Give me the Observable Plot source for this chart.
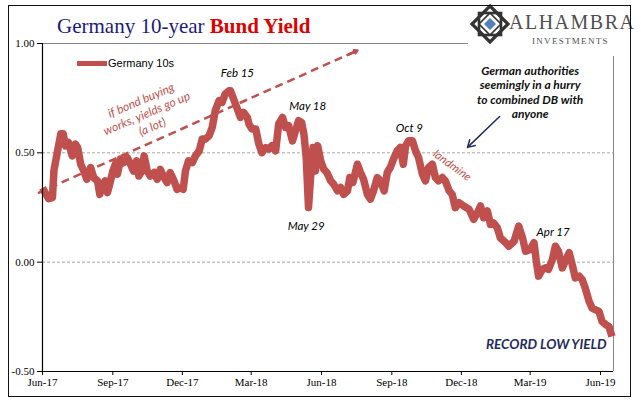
<!DOCTYPE html>
<html>
<head>
<meta charset="utf-8">
<script src="https://cdn.jsdelivr.net/npm/d3@7"></script>
<script src="https://cdn.jsdelivr.net/npm/@observablehq/plot@0.6"></script>
<style>
  html, body { margin: 0; padding: 0; background: #fff; }
  #wrap { position: relative; width: 641px; height: 401px; overflow: hidden; background: #fff; }
  #wrap svg { position: absolute; left: 0; top: 0; }
  .ov { position: absolute; white-space: nowrap; }
</style>
</head>
<body>
<div id="wrap"></div>
<script>
// ---- data ----
const dates = [
  "2017-06-14","2017-06-22","2017-06-27","2017-06-29","2017-07-03","2017-07-08","2017-07-11","2017-07-14",
  "2017-07-18","2017-07-23","2017-07-27","2017-07-30","2017-08-03","2017-08-07","2017-08-11","2017-08-16",
  "2017-08-20","2017-08-25","2017-08-28","2017-08-31","2017-09-04","2017-09-07","2017-09-11","2017-09-14",
  "2017-09-18","2017-09-20","2017-09-24","2017-09-28","2017-10-03","2017-10-07","2017-10-11","2017-10-15",
  "2017-10-18","2017-10-22","2017-10-25","2017-10-29","2017-11-02","2017-11-07","2017-11-11","2017-11-15",
  "2017-11-20","2017-11-24","2017-11-28","2017-12-03","2017-12-07","2017-12-12","2017-12-15","2017-12-18",
  "2017-12-22","2017-12-27","2017-12-31","2018-01-05","2018-01-09","2018-01-13","2018-01-18","2018-01-22",
  "2018-01-26","2018-01-31","2018-02-04","2018-02-08","2018-02-13","2018-02-15","2018-02-19","2018-02-24",
  "2018-02-28","2018-03-04","2018-03-09","2018-03-11","2018-03-15","2018-03-20","2018-03-24","2018-03-28",
  "2018-04-02","2018-04-06","2018-04-10","2018-04-15","2018-04-19","2018-04-24","2018-04-28","2018-05-02",
  "2018-05-07","2018-05-11","2018-05-15","2018-05-19","2018-05-22","2018-05-25","2018-05-28","2018-05-31",
  "2018-06-03","2018-06-06","2018-06-09","2018-06-13","2018-06-17","2018-06-21","2018-06-26","2018-06-30",
  "2018-07-05","2018-07-09","2018-07-13","2018-07-18","2018-07-21","2018-07-25","2018-07-31","2018-08-04",
  "2018-08-08","2018-08-13","2018-08-17","2018-08-21","2018-08-26","2018-08-30","2018-09-04","2018-09-08",
  "2018-09-12","2018-09-17","2018-09-21","2018-09-25","2018-09-29","2018-10-02","2018-10-06","2018-10-11",
  "2018-10-15","2018-10-19","2018-10-24","2018-10-28","2018-11-01","2018-11-06","2018-11-10","2018-11-14",
  "2018-11-19","2018-11-23","2018-11-28","2018-12-02","2018-12-06","2018-12-11","2018-12-17","2018-12-24",
  "2018-12-30","2019-01-04","2019-01-08","2019-01-12","2019-01-17","2019-01-21","2019-01-25","2019-01-30",
  "2019-02-03","2019-02-10","2019-02-14","2019-02-21","2019-02-27","2019-03-04","2019-03-08","2019-03-14",
  "2019-03-19","2019-03-22","2019-03-25","2019-03-30","2019-04-03","2019-04-07","2019-04-12","2019-04-16",
  "2019-04-20","2019-04-25","2019-04-29","2019-05-04","2019-05-08","2019-05-12","2019-05-17","2019-05-21",
  "2019-05-25","2019-05-30","2019-06-03","2019-06-07","2019-06-12","2019-06-16","2019-06-21","2019-06-25",
  "2019-06-29"
];
const yields = [
  0.34, 0.29, 0.295, 0.42, 0.495, 0.587, 0.587, 0.532,
  0.547, 0.486, 0.54, 0.524, 0.448, 0.417, 0.379, 0.433,
  0.387, 0.372, 0.31, 0.349, 0.372, 0.318, 0.372, 0.417,
  0.455, 0.402, 0.471, 0.455, 0.478, 0.448, 0.417, 0.463,
  0.394, 0.417, 0.486, 0.417, 0.394, 0.41, 0.379, 0.425,
  0.387, 0.364, 0.41, 0.372, 0.333, 0.341, 0.333, 0.417,
  0.463, 0.455, 0.486, 0.509, 0.563, 0.563, 0.578, 0.616,
  0.693, 0.739, 0.731, 0.769, 0.784, 0.784, 0.746, 0.70,
  0.662, 0.685, 0.662, 0.632, 0.609, 0.609, 0.54, 0.501,
  0.524, 0.517, 0.532, 0.509, 0.632, 0.662, 0.616, 0.624,
  0.555, 0.601, 0.647, 0.639, 0.586, 0.478, 0.25, 0.402,
  0.524, 0.417, 0.532, 0.463, 0.425, 0.41, 0.372, 0.356,
  0.326, 0.341, 0.31, 0.326, 0.387, 0.364, 0.448, 0.41,
  0.379, 0.31, 0.288, 0.326, 0.387, 0.372, 0.326, 0.41,
  0.433, 0.478, 0.509, 0.524, 0.448, 0.532, 0.555, 0.555,
  0.509, 0.478, 0.402, 0.372, 0.433, 0.448, 0.387, 0.372,
  0.387, 0.372, 0.326, 0.31, 0.249, 0.272, 0.257, 0.242,
  0.196, 0.226, 0.257, 0.203, 0.234, 0.173, 0.18, 0.157,
  0.111, 0.089, 0.073, 0.096, 0.165, 0.111, 0.05, 0.058,
  0.089, 0.005, -0.064, -0.033, -0.026, -0.033, 0.012, 0.073,
  0.05, -0.026, 0.005, 0.043, -0.011, -0.072, -0.064, -0.079,
  -0.118, -0.179, -0.21, -0.217, -0.225, -0.271, -0.286, -0.294,
  -0.34
];
const seriesName = "Germany 10s";
const xStart = "2017-06-14";
const xEnd = "2019-07-01";
const xTickDates = ["2017-06-14","2017-09-14","2017-12-14","2018-03-14","2018-06-14","2018-09-14","2018-12-14","2019-03-14","2019-06-14"];
const yTicks = [-0.5, 0, 0.5, 1.0];
const gridValues = [0, 0.5];

// annotations (data coordinates)
const dateLabels = [
  {text: "Feb 15", date: "2018-02-24", value: 0.863},
  {text: "May 18", date: "2018-05-27", value: 0.712},
  {text: "May 29", date: "2018-05-25", value: 0.163},
  {text: "Oct 9",  date: "2018-10-07", value: 0.611},
  {text: "Apr 17", date: "2019-04-13", value: 0.136}
];
const hopeArrow = {fromDate: "2017-06-08", fromValue: 0.316, toDate: "2018-07-31", toValue: 0.968};
const hopeText = {text: "if bond buying\nworks, yields go up\n(a lot)", date: "2017-10-28", value: 0.682};
const landmine = {text: "landmine", date: "2018-12-02", value: 0.442};
const authText = {text: "German authorities\nseemingly in a hurry\nto combined DB with\nanyone", date: "2019-03-14", value: 0.779};
const authArrow = {fromDate: "2019-02-02", fromValue: 0.666, toDate: "2018-12-22", toValue: 0.525};
const recordText = {text: "RECORD LOW YIELD", date: "2019-06-22", value: -0.376};

// ---- build ----
const parse = d3.utcParse("%Y-%m-%d");
const data = dates.map((d, i) => ({date: parse(d), value: yields[i]}));
const red = "#c0504d";
const navy = "#1f2d5c";

const headFrac = 0.97;
const hA = {
  x1: parse(hopeArrow.fromDate), y1: hopeArrow.fromValue,
  x2: parse(hopeArrow.toDate), y2: hopeArrow.toValue
};
const hHead = {
  x1: d3.interpolateDate(hA.x1, hA.x2)(headFrac),
  y1: d3.interpolateNumber(hA.y1, hA.y2)(headFrac),
  x2: hA.x2, y2: hA.y2
};

const chart = Plot.plot({
  width: 641,
  height: 401,
  marginLeft: 42,
  marginRight: 28,
  marginTop: 43,
  marginBottom: 30,
  style: {fontFamily: "'Liberation Serif', serif", fontSize: "11px", color: "#000", background: "transparent"},
  x: {
    type: "utc",
    domain: [parse(xStart), parse(xEnd)],
    ticks: xTickDates.map(parse),
    tickFormat: d3.utcFormat("%b-%y"),
    tickSize: 4,
    tickPadding: 3,
    label: null
  },
  y: {
    domain: [-0.5, 1.0],
    ticks: yTicks,
    tickFormat: d => d.toFixed(2),
    tickSize: 5,
    tickPadding: 3,
    label: null
  },
  marks: [
    Plot.ruleY(gridValues, {stroke: "#a6a6a6", strokeWidth: 1, strokeDasharray: "3,2"}),
    Plot.ruleY([1.0], {stroke: "#868686", strokeWidth: 1}),
    Plot.ruleX([parse(xEnd)], {stroke: "#868686", strokeWidth: 1}),
    Plot.link([hA], {x1: "x1", y1: "y1", x2: "x2", y2: "y2", stroke: red, strokeWidth: 2.5, strokeDasharray: "8,5"}),
    Plot.arrow([hHead], {x1: "x1", y1: "y1", x2: "x2", y2: "y2", stroke: red, strokeWidth: 2.5, headLength: 11}),
    Plot.line(data, {x: "date", y: "value", stroke: red, strokeWidth: 7.5, strokeLinejoin: "round", strokeLinecap: "butt"}),
    Plot.ruleX([parse(xStart)], {stroke: "#000", strokeWidth: 1.2}),
    Plot.ruleY([-0.5], {stroke: "#000", strokeWidth: 1.2}),
    Plot.text(dateLabels, {x: d => parse(d.date), y: "value", text: "text", fontFamily: "Lato, sans-serif", fontStyle: "italic", fontSize: 11.5, fill: "#000"}),
    Plot.text([hopeText], {x: d => parse(d.date), y: "value", text: "text", fontFamily: "Lato, sans-serif", fontStyle: "italic", fontSize: 12, fill: red, rotate: -23, lineHeight: 1.2}),
    Plot.text([landmine], {x: d => parse(d.date), y: "value", text: "text", fontFamily: "Lato, sans-serif", fontStyle: "italic", fontSize: 11.5, fill: red, rotate: 36}),
    Plot.text([authText], {x: d => parse(d.date), y: "value", text: "text", fontFamily: "Lato, sans-serif", fontStyle: "italic", fontWeight: "bold", fontSize: 12, fill: "#111", lineHeight: 1.2}),
    Plot.arrow([authArrow], {x1: d => parse(d.fromDate), y1: "fromValue", x2: d => parse(d.toDate), y2: "toValue", stroke: navy, strokeWidth: 1.5, headLength: 8}),
    Plot.text([recordText], {x: d => parse(d.date), y: "value", text: "text", textAnchor: "end", fontFamily: "Lato, sans-serif", fontStyle: "italic", fontWeight: "bold", fontSize: 13.5, fill: navy})
  ]
});

const wrap = document.getElementById("wrap");
wrap.appendChild(chart);

// Title
const title = document.createElement("div");
title.className = "ov";
title.style.cssText = "left:57px;top:14px;font-family:'Liberation Serif',serif;font-size:21px;line-height:24px;color:#1c1c78;";
title.innerHTML = 'Germany 10-year <span style="color:#e00000;font-weight:bold">Bund Yield</span>';
wrap.appendChild(title);

// Legend
const legend = document.createElement("div");
legend.className = "ov";
legend.style.cssText = "left:77px;top:57px;font-family:'Liberation Sans',Arial,sans-serif;font-size:11px;line-height:13px;color:#000;display:flex;align-items:center;";
legend.innerHTML = '<span style="display:inline-block;width:30px;height:5px;background:' + red + ';margin-right:1px"></span>' + seriesName;
wrap.appendChild(legend);

// Logo cover + logo
const logo = document.createElement("div");
logo.className = "ov";
logo.style.cssText = "left:468px;top:0px;width:173px;height:56px;background:#fff;";
logo.innerHTML =
  '<svg width="40" height="40" style="position:absolute;left:2px;top:4px" viewBox="0 0 40 40">' +
  '<polygon points="20,2 38,20 20,38 2,20" fill="none" stroke="#333" stroke-width="3.2"/>' +
  '<rect x="9" y="9" width="22" height="22" fill="none" stroke="#333" stroke-width="2.6"/>' +
  '<polygon points="20,9 31,20 20,31 9,20" fill="none" stroke="#333" stroke-width="1.6"/>' +
  '<polygon points="20,14 26,20 20,26 14,20" fill="#4f81bd"/>' +
  '</svg>' +
  '<div style="position:absolute;left:41px;top:11px;font-family:\'Liberation Serif\',serif;font-size:20px;line-height:22px;letter-spacing:1.5px;color:#505050">ALHAMBRA</div>' +
  '<div style="position:absolute;left:64px;top:36px;font-family:\'Liberation Serif\',serif;font-size:9px;line-height:10px;letter-spacing:1.3px;color:#505050">INVESTMENTS</div>';
wrap.appendChild(logo);

// Outer border
const border = document.createElement("div");
border.className = "ov";
border.style.cssText = "left:8px;top:5px;width:621px;height:390px;border:1.5px solid #111;pointer-events:none;";
wrap.appendChild(border);
</script>
</body>
</html>
